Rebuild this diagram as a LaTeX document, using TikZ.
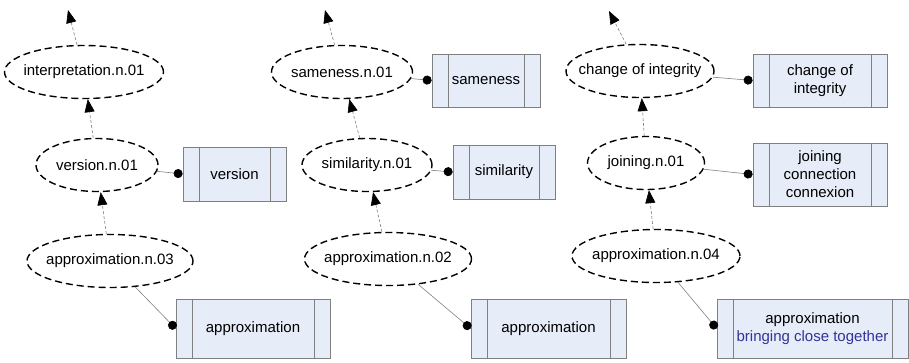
\documentclass[tikz,border=0pt]{standalone}
\usepackage{fontspec}
\setmainfont{Liberation Sans}
\usetikzlibrary{shapes.geometric,arrows.meta}
\definecolor{boxfill}{RGB}{230,236,248}
\definecolor{boxline}{RGB}{128,128,128}
\definecolor{glossblue}{RGB}{51,51,153}
\tikzstyle{synset} = [ellipse, draw=black, line width=1.4pt, dash pattern=on 7pt off 4pt, minimum height=53pt, inner sep=0pt]
\tikzstyle{lemmas} = [rectangle, draw=boxline, fill=boxfill, line width=0.8pt, align=center, inner sep=0pt,
	path picture={\draw[boxline, line width=0.8pt]
		([xshift=16pt]path picture bounding box.north west) -- ([xshift=16pt]path picture bounding box.south west)
		([xshift=-16pt]path picture bounding box.north east) -- ([xshift=-16pt]path picture bounding box.south east);}]
\tikzstyle{hyper} = [draw=gray, line width=0.6pt, dash pattern=on 3pt off 2pt, -{Triangle[length=13pt,width=10pt,color=black]}]
\tikzstyle{member} = [draw=gray, line width=0.6pt, -{Circle[length=9pt,color=black]}]
\newcommand{\syn}[1]{\hbox to 0pt{\hss#1\hss}}

\begin{document}
\begin{tikzpicture}[x=1pt, y=-1pt, font=\fontsize{15}{18}\selectfont]%
	\useasboundingbox (0,0) rectangle (909,362);%
	% left chain
	\node[synset, minimum width=159pt] (interp) at (84,72) {\syn{interpretation.n.01}};%
	\node[synset, minimum width=122pt] (version) at (97,165) {\syn{version.n.01}};%
	\node[synset, minimum width=166pt] (approxA) at (110,261) {\syn{approximation.n.03}};%
	\node[lemmas, minimum width=103pt, minimum height=54pt] (versionbox) at (234.5,174) {version};%
	\node[lemmas, minimum width=154pt, minimum height=59pt] (approxAbox) at (253,328.5) {approximation};%
	\coordinate (upA) at (68,10);%
	\draw[hyper] (interp) -- (upA);%
	\draw[hyper] (version) -- (interp);%
	\draw[hyper] (approxA) -- (version);%
	\draw[member] (version) -- (versionbox.west);%
	\draw[member] (approxA) -- (approxAbox.west);%
	% middle chain
	\node[synset, minimum width=141pt] (same) at (342,72) {\syn{sameness.n.01}};%
	\node[synset, minimum width=130pt] (simil) at (367,165) {\syn{similarity.n.01}};%
	\node[synset, minimum width=167pt] (approxB) at (388,259) {\syn{approximation.n.02}};%
	\node[lemmas, minimum width=108pt, minimum height=53pt] (samebox) at (486,80.5) {sameness};%
	\node[lemmas, minimum width=102pt, minimum height=54pt] (similbox) at (504,172) {similarity};%
	\node[lemmas, minimum width=155pt, minimum height=59pt] (approxBbox) at (548.5,328.5) {approximation};%
	\coordinate (upB) at (325,10);%
	\draw[hyper] (same) -- (upB);%
	\draw[hyper] (simil) -- (same);%
	\draw[hyper] (approxB) -- (simil);%
	\draw[member] (same) -- (samebox.west);%
	\draw[member] (simil) -- (similbox.west);%
	\draw[member] (approxB) -- (approxBbox.west);%
	% right chain
	\node[synset, minimum width=148pt] (change) at (640,71) {\syn{change of integrity}};%
	\node[synset, minimum width=117pt] (join) at (646,163) {\syn{joining.n.01}};%
	\node[synset, minimum width=168pt] (approxC) at (656,256) {\syn{approximation.n.04}};%
	\node[lemmas, minimum width=134pt, minimum height=53pt] (changebox) at (820,80.5) {change of\\integrity};%
	\node[lemmas, minimum width=134pt, minimum height=63pt] (joinbox) at (820,174.5) {joining\\connection\\connexion};%
	\node[lemmas, minimum width=191pt, minimum height=59pt] (approxCbox) at (812.5,328.5) {approximation\\\textcolor{glossblue}{bringing close together}};%
	\coordinate (upC) at (609,11);%
	\draw[hyper] (change) -- (upC);%
	\draw[hyper] (join) -- (change);%
	\draw[hyper] (approxC) -- (join);%
	\draw[member] (change) -- (changebox.west);%
	\draw[member] (join) -- (joinbox.west);%
	\draw[member] (approxC) -- (approxCbox.west);%
\end{tikzpicture}
\end{document}
